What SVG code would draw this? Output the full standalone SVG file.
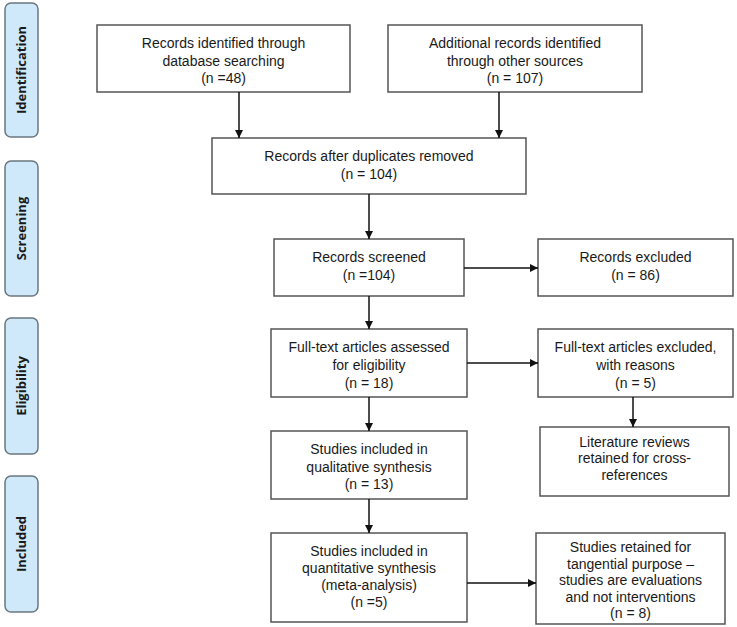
<svg xmlns="http://www.w3.org/2000/svg" width="737" height="627" viewBox="0 0 737 627">
<style>
.box{fill:#fff;stroke:#555;stroke-width:1.5}
.side{fill:#cfe9fb;stroke:#6b7780;stroke-width:1.5}
.t{font-family:"Liberation Sans","Open Sans",sans-serif;font-size:14px;fill:#1a1a1a;text-anchor:middle}
.s{font-family:"Open Sans","Liberation Sans",sans-serif;font-size:13px;font-weight:bold;fill:#1a1a1a;text-anchor:middle}
.c{stroke:#111;stroke-width:1.5;fill:none;marker-end:url(#ah)}
</style>
<defs>
<marker id="ah" viewBox="0 0 10 10" refX="10" refY="5" markerWidth="5.5" markerHeight="5.5" orient="auto" markerUnits="strokeWidth">
<path d="M0,0L10,5L0,10z" fill="#111"/>
</marker>
</defs>
<g id="phase-identification"><rect class="side" x="5" y="3" width="33" height="134" rx="6"/><text class="s" transform="translate(26,70) rotate(-90)">Identification</text></g>
<g id="phase-screening"><rect class="side" x="5" y="161" width="33" height="135" rx="6"/><text class="s" transform="translate(26,228.5) rotate(-90)">Screening</text></g>
<g id="phase-eligibility"><rect class="side" x="5" y="318" width="33" height="136" rx="6"/><text class="s" transform="translate(26,386) rotate(-90)">Eligibility</text></g>
<g id="phase-included"><rect class="side" x="5" y="476" width="33" height="136" rx="6"/><text class="s" transform="translate(26,544) rotate(-90)">Included</text></g>

<g id="n-db"><rect class="box" x="97" y="25" width="253" height="67"/>
<text class="t" x="223.5" y="48">Records identified through</text>
<text class="t" x="223.5" y="65.5">database searching</text>
<text class="t" x="223.5" y="83">(n =48)</text></g>
<g id="n-other"><rect class="box" x="388" y="25" width="254" height="67"/>
<text class="t" x="515" y="48">Additional records identified</text>
<text class="t" x="515" y="65.5">through other sources</text>
<text class="t" x="515" y="83">(n = 107)</text></g>
<g id="n-dup"><rect class="box" x="212" y="138" width="314" height="56"/>
<text class="t" x="369" y="160.5">Records after duplicates removed</text>
<text class="t" x="369" y="178.5">(n = 104)</text></g>
<g id="n-screened"><rect class="box" x="274" y="239" width="190" height="57"/>
<text class="t" x="369" y="261.5">Records screened</text>
<text class="t" x="369" y="279.5">(n =104)</text></g>
<g id="n-excl"><rect class="box" x="538" y="239" width="195" height="57"/>
<text class="t" x="635.5" y="261.5">Records excluded</text>
<text class="t" x="635.5" y="279.5">(n = 86)</text></g>
<g id="n-full"><rect class="box" x="271" y="329" width="196" height="68"/>
<text class="t" x="369" y="351.5">Full-text articles assessed</text>
<text class="t" x="369" y="369.5">for eligibility</text>
<text class="t" x="369" y="387.5">(n = 18)</text></g>
<g id="n-fullexcl"><rect class="box" x="538" y="329" width="195" height="68"/>
<text class="t" x="635.5" y="351.5">Full-text articles excluded,</text>
<text class="t" x="635.5" y="369.5">with reasons</text>
<text class="t" x="635.5" y="387.5">(n = 5)</text></g>
<g id="n-lit"><rect class="box" x="540" y="427" width="189" height="69"/>
<text class="t" x="634.5" y="446.5">Literature reviews</text>
<text class="t" x="634.5" y="463">retained for cross-</text>
<text class="t" x="634.5" y="479.5">references</text></g>
<g id="n-qual"><rect class="box" x="271" y="431" width="196" height="68"/>
<text class="t" x="369" y="453.5">Studies included in</text>
<text class="t" x="369" y="471.5">qualitative synthesis</text>
<text class="t" x="369" y="488.5">(n = 13)</text></g>
<g id="n-quant"><rect class="box" x="271" y="533" width="196" height="89"/>
<text class="t" x="369" y="555.5">Studies included in</text>
<text class="t" x="369" y="572.5">quantitative synthesis</text>
<text class="t" x="369" y="589.5">(meta-analysis)</text>
<text class="t" x="369" y="606.5">(n =5)</text></g>
<g id="n-tang"><rect class="box" x="536" y="533" width="189" height="91"/>
<text class="t" x="630.5" y="551.5">Studies retained for</text>
<text class="t" x="630.5" y="568.5">tangential purpose –</text>
<text class="t" x="630.5" y="584.5">studies are evaluations</text>
<text class="t" x="630.5" y="601.5">and not interventions</text>
<text class="t" x="630.5" y="617.5">(n = 8)</text></g>

<g id="connectors">
<line class="c" x1="239" y1="92" x2="239" y2="138"/>
<line class="c" x1="499" y1="92" x2="499" y2="138"/>
<line class="c" x1="369" y1="194" x2="369" y2="239"/>
<line class="c" x1="464" y1="268" x2="538" y2="268"/>
<line class="c" x1="369" y1="296" x2="369" y2="329"/>
<line class="c" x1="467" y1="363" x2="538" y2="363"/>
<line class="c" x1="633" y1="397" x2="633" y2="427"/>
<line class="c" x1="369" y1="397" x2="369" y2="431"/>
<line class="c" x1="369" y1="499" x2="369" y2="533"/>
<line class="c" x1="467" y1="583" x2="536" y2="583"/>
</g>
</svg>
